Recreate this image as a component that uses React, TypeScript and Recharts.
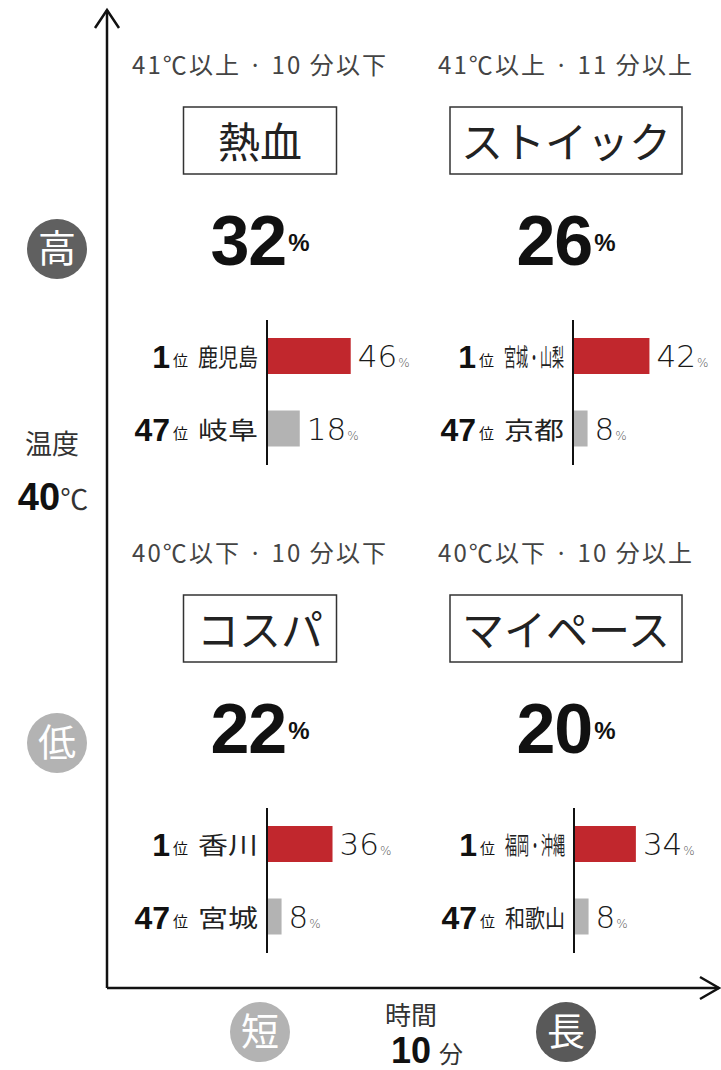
import React from "react";
import {
  ComposedChart,
  BarChart,
  Bar,
  Cell,
  LabelList,
  XAxis,
  YAxis,
  ReferenceArea,
  ReferenceLine,
} from "recharts";

// quadrant order: top-left, top-right, bottom-left, bottom-right
const types = ["熱血", "ストイック", "コスパ", "マイペース"];
const conditions = [
  "41℃以上 · 10 分以下",
  "41℃以上 · 11 分以上",
  "40℃以下 · 10 分以下",
  "40℃以下 · 10 分以上",
];
const shares = [32, 26, 22, 20];
const ranks = ["1", "47"];
const topPrefs = ["鹿児島", "宮城・山梨", "香川", "福岡・沖縄"];
const topValues = [46, 42, 36, 34];
const lastPrefs = ["岐阜", "京都", "宮城", "和歌山"];
const lastValues = [18, 8, 8, 8];

const tempThreshold = 40;
const timeThreshold = 10;

const JP = '"Noto Sans CJK JP", "Noto Sans", sans-serif';
const NUM = '"Liberation Sans", Arial, sans-serif';
const THIN = '"DejaVu Sans", sans-serif';

const W = 721;
const H = 1070;

// layout
const centerX = [260, 566, 260, 566];
const offsetY = [0, 0, 488, 488];
const barAxisX = [267, 573, 267, 574];
const AXIS_W = 160;

const quadrantFill = ["#ebebeb", "#e0e0e0", "#f4f4f4", "#f4f4f4"];

function RankTick(props: any) {
  const { y, payload } = props;
  const idx = props.index ?? payload.index ?? 0;
  const name: string = payload.value;
  return (
    <g>
      <text x={AXIS_W - 79} y={y + 12} textAnchor="end" fill="#111">
        <tspan fontFamily={NUM} fontWeight="bold" fontSize={32}>
          {ranks[idx]}
        </tspan>
        <tspan fontFamily={JP} fontSize={15} dx={3} dy={-2}>
          位
        </tspan>
      </text>
      {/* names are fitted to one common width */}
      <text
        x={AXIS_W - 9}
        y={y + 10}
        textAnchor="end"
        fontFamily={JP}
        fontSize={24}
        fill="#222"
        textLength={60}
        lengthAdjust="spacingAndGlyphs"
      >
        {name}
      </text>
    </g>
  );
}

function ValueLabel(props: any) {
  const { x, y, width, height, value } = props;
  return (
    <text
      x={x + width + 7}
      y={y + height / 2 + 11}
      fill="#1a1a1a"
      fontFamily={THIN}
      fontWeight={200}
    >
      <tspan fontSize={31}>{value}</tspan>
      <tspan fontSize={12} dx={1} fill="#555">
        %
      </tspan>
    </text>
  );
}

function RankBars({ q }: { q: number }) {
  const rows = [
    { name: topPrefs[q], value: topValues[q] },
    { name: lastPrefs[q], value: lastValues[q] },
  ];
  return (
    <div
      style={{
        position: "absolute",
        left: barAxisX[q] - AXIS_W,
        top: 320 + offsetY[q],
      }}
    >
      <BarChart
        width={320}
        height={145}
        layout="vertical"
        data={rows}
        margin={{ top: 0, right: 69, bottom: 0, left: 0 }}
        barSize={36}
      >
        <XAxis type="number" domain={[0, 50]} hide />
        <YAxis
          type="category"
          dataKey="name"
          width={AXIS_W}
          interval={0}
          tickLine={false}
          axisLine={{ stroke: "#111", strokeWidth: 2 }}
          tick={RankTick}
        />
        <Bar dataKey="value" isAnimationActive={false}>
          {rows.map((_, i) => (
            <Cell key={i} fill={i === 0 ? "#c1272d" : "#b3b3b3"} />
          ))}
          <LabelList dataKey="value" content={ValueLabel} />
        </Bar>
      </BarChart>
    </div>
  );
}

function Frame() {
  return (
    <ComposedChart
      width={W}
      height={H}
      data={[]}
      margin={{ top: 10, right: 2, bottom: 52, left: 47 }}
    >
      <XAxis
        type="number"
        domain={[0, timeThreshold * 2]}
        tick={false}
        tickLine={false}
        height={30}
        axisLine={{ stroke: "#111", strokeWidth: 2.5 }}
      />
      <YAxis
        type="number"
        domain={[tempThreshold - 10, tempThreshold + 10]}
        tick={false}
        tickLine={false}
        width={60}
        axisLine={{ stroke: "#111", strokeWidth: 2.5 }}
      />
      <ReferenceArea x1={0} x2={10} y1={40} y2={50} fill={quadrantFill[0]} fillOpacity={1} stroke="none" />
      <ReferenceArea x1={10} x2={20} y1={40} y2={50} fill={quadrantFill[1]} fillOpacity={1} stroke="none" />
      <ReferenceArea x1={0} x2={10} y1={30} y2={40} fill={quadrantFill[2]} fillOpacity={1} stroke="none" />
      <ReferenceArea x1={10} x2={20} y1={30} y2={40} fill={quadrantFill[3]} fillOpacity={1} stroke="none" />
      <ReferenceLine x={timeThreshold} stroke="#777" strokeWidth={1.5} strokeDasharray="6 4" />
      <ReferenceLine y={tempThreshold} stroke="#777" strokeWidth={1.5} strokeDasharray="6 4" />
    </ComposedChart>
  );
}

function Badge({ cx, cy, fill, label }: { cx: number; cy: number; fill: string; label: string }) {
  return (
    <g>
      <circle cx={cx} cy={cy} r={30} fill={fill} />
      <text x={cx} y={cy + 13} textAnchor="middle" fontFamily={JP} fontSize={38} fill="#fff">
        {label}
      </text>
    </g>
  );
}

function Labels() {
  return (
    <svg
      width={W}
      height={H}
      style={{ position: "absolute", left: 0, top: 0, pointerEvents: "none" }}
    >
      {/* axis arrowheads */}
      <polyline points="95,28 107,10 119,28" fill="none" stroke="#111" strokeWidth={2.5} />
      <polyline points="700,977 719,988 700,999" fill="none" stroke="#111" strokeWidth={2.5} />

      {types.map((t, q) => {
        const cx = centerX[q];
        const dy = offsetY[q];
        const bw = Math.max(153, t.length * 42 + 22);
        return (
          <g key={t}>
            <text
              x={cx - 1}
              y={74 + dy}
              textAnchor="middle"
              fontFamily={JP}
              fontSize={24}
              fill="#444"
              textLength={254}
              lengthAdjust="spacing"
            >
              {conditions[q]}
            </text>
            <rect x={cx - bw / 2} y={107 + dy} width={bw} height={67} fill="#fff" stroke="#333" strokeWidth={1.5} />
            <text x={cx} y={158 + dy} textAnchor="middle" fontFamily={JP} fontSize={42} fill="#222">
              {t}
            </text>
            <text x={cx} y={265 + dy} textAnchor="middle" fontFamily={NUM} fontWeight="bold" fill="#111">
              <tspan fontSize={70} letterSpacing={-1}>{shares[q]}</tspan>
              <tspan fontSize={24} dx={2} dy={-14}>%</tspan>
            </text>
          </g>
        );
      })}

      {/* temperature axis */}
      <Badge cx={57} cy={249} fill="#606060" label="高" />
      <Badge cx={57} cy={743} fill="#b3b3b3" label="低" />
      <text x={52} y={454} textAnchor="middle" fontFamily={JP} fontSize={27} fill="#333">
        温度
      </text>
      <text x={53} y={510} textAnchor="middle" fill="#111">
        <tspan fontFamily={NUM} fontWeight="bold" fontSize={38}>{tempThreshold}</tspan>
        <tspan fontFamily={JP} fontSize={28} fill="#333">℃</tspan>
      </text>

      {/* time axis */}
      <Badge cx={260} cy={1032} fill="#b3b3b3" label="短" />
      <Badge cx={566} cy={1032} fill="#595959" label="長" />
      <text x={411} y={1025} textAnchor="middle" fontFamily={JP} fontSize={26} fill="#333">
        時間
      </text>
      <text x={427} y={1063} textAnchor="middle" fill="#111">
        <tspan fontFamily={NUM} fontWeight="bold" fontSize={36}>{timeThreshold}</tspan>
        <tspan fontFamily={JP} fontSize={24} dx={8} fill="#333">分</tspan>
      </text>
    </svg>
  );
}

export default function App() {
  return (
    <div style={{ position: "absolute", left: 0, top: 0, width: W, height: H, background: "#fff" }}>
      <Frame />
      {types.map((_, q) => (
        <RankBars key={q} q={q} />
      ))}
      <Labels />
    </div>
  );
}
